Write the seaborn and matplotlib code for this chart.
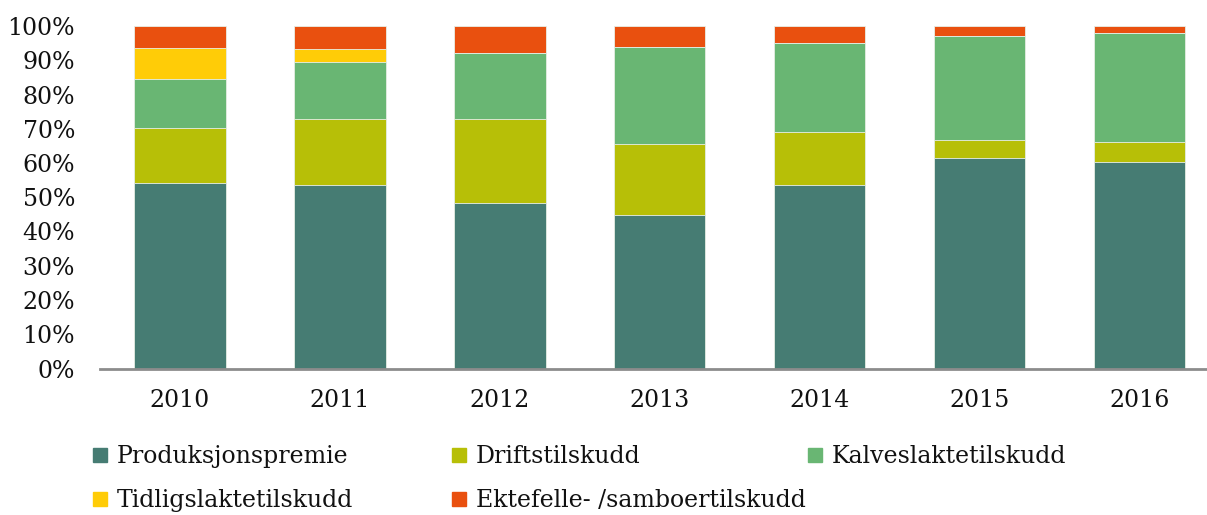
import matplotlib
matplotlib.use("Agg")
import matplotlib.pyplot as plt
from matplotlib.lines import Line2D
from matplotlib.ticker import FuncFormatter
import numpy as np
import seaborn as sns

years = ["2010", "2011", "2012", "2013", "2014", "2015", "2016"]
produksjonspremie = [54.1, 53.5, 48.4, 44.9, 53.5, 61.4, 60.4]
driftstilskudd = [16.1, 19.3, 24.4, 20.6, 15.6, 5.3, 5.7]
kalveslaktetilskudd = [14.3, 16.8, 19.3, 28.4, 25.9, 30.4, 31.9]
tidligslaktetilskudd = [9.2, 3.7, 0.0, 0.0, 0.0, 0.0, 0.0]
ektefelletilskudd = [6.3, 6.7, 7.9, 6.1, 5.0, 2.9, 2.0]

series = ["Produksjonspremie", "Driftstilskudd", "Kalveslaktetilskudd",
          "Tidligslaktetilskudd", "Ektefelle- /samboertilskudd"]
colors = ["#467c73", "#b7bf07", "#69b673", "#ffcc07", "#e9500f"]

sns.set_style("white")
plt.rcParams["font.family"] = ["DejaVu Serif"]

fig = plt.figure(figsize=(12.07, 5.15), dpi=100)
ax = fig.add_axes([100 / 1207, 146.5 / 515, 1107 / 1207, 342.5 / 515])

layers = np.array([produksjonspremie, driftstilskudd, kalveslaktetilskudd,
                   tidligslaktetilskudd, ektefelletilskudd])
cum = np.cumsum(layers, axis=0)

# draw from the top layer down so each cumulative bar covers the one above
for i in range(len(series) - 1, -1, -1):
    sns.barplot(x=years, y=cum[i], color=colors[i], width=0.57,
                saturation=1, edgecolor="#e8efe8", linewidth=0.6, ax=ax)

ax.set_xlim(-0.5, 6.42)
ax.set_ylim(0, 100)
ax.set_yticks(range(0, 101, 10))
ax.yaxis.set_major_formatter(FuncFormatter(lambda v, p: f"{v:.0f}%"))
ax.set_xlabel("")
ax.set_ylabel("")
ax.tick_params(axis="y", length=0, pad=18, labelsize=17, labelcolor="#111111")
ax.tick_params(axis="x", length=0, pad=15, labelsize=17, labelcolor="#111111")
for s in ["left", "right", "top"]:
    ax.spines[s].set_visible(False)
ax.spines["bottom"].set_color("#8c8c8c")
ax.spines["bottom"].set_linewidth(2)

# legend laid out in three fixed columns like the original
columns = [[0, 3], [1, 4], [2]]
col_x = [93 / 1207, 452 / 1207, 808 / 1207]
for cols, x in zip(columns, col_x):
    handles = [Line2D([], [], marker="s", linestyle="none", markersize=9.5,
                      markerfacecolor=colors[j], markeredgecolor=colors[j])
               for j in cols]
    labels = [series[j] for j in cols]
    leg = fig.legend(handles, labels, loc="upper left",
                     bbox_to_anchor=(x, 1 - 445 / 515), frameon=False,
                     fontsize=17, handlelength=0.6, handletextpad=0.4,
                     labelspacing=0.88, borderpad=0, borderaxespad=0,
                     labelcolor="#111111")

fig.savefig("out.png", dpi=100)
